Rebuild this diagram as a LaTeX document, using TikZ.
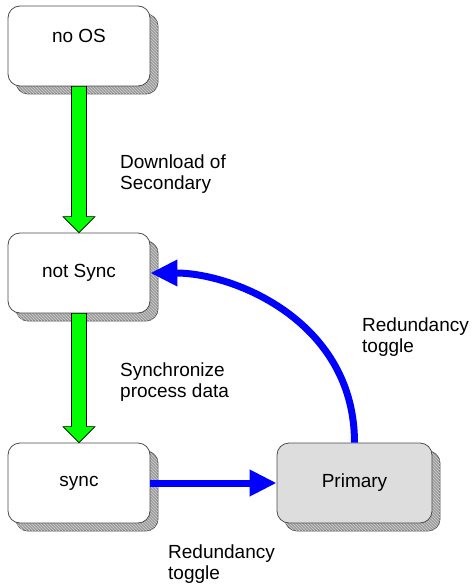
\documentclass[tikz,border=0pt]{standalone}
\usepackage{fontspec}
\setmainfont{Liberation Sans}
\usetikzlibrary{arrows.meta,shadows,patterns,calc}
\definecolor{StateGreen}{HTML}{00FF00}
\definecolor{ToggleBlue}{HTML}{0000FF}
\definecolor{ShadowGray}{HTML}{9C9C9C}
\definecolor{HatchGray}{HTML}{D0D0D0}
\definecolor{PrimaryGray}{HTML}{DDDDDD}
\begin{document}
\begin{tikzpicture}[x=1pt,y=-1pt,font=\fontsize{19}{21.5}\selectfont,
  statebox/.style={draw=black!70,line width=0.8pt,rounded corners=12pt,fill=white,
    minimum width=142pt,minimum height=80pt,inner sep=0pt,
    general shadow={shadow xshift=8pt,shadow yshift=-8pt,fill=ShadowGray,draw=black!65,
      postaction={pattern=north west lines,pattern color=HatchGray}}},
  syncflow/.style={draw=black,line width=0.6pt,fill=StateGreen,
    to path={let \p1=(\tikztostart), \p2=(\tikztotarget) in
      (\x1-7.5pt,\y1) -- (\x1+7.5pt,\y1) -- (\x1+7.5pt,\y2+16pt) -- (\x1+16pt,\y2+16pt)
      -- (\x1,\y2) -- (\x1-16pt,\y2+16pt) -- (\x1-7.5pt,\y2+16pt) -- cycle}},
  toggle/.style={draw=ToggleBlue,line width=7pt,-{Triangle[length=27pt,width=25pt]}},
  note/.style={anchor=west,align=left,inner sep=0pt}]
\useasboundingbox (0,0) rectangle (471,585);
% states of the redundant pair
\node[statebox,text height=14pt,text depth=20pt] (noos) at (79,46) {no OS};
\node[statebox] (notsync) at (79,273)   {not Sync};
\node[statebox] (sync)    at (79,483)   {sync};
\node[statebox,fill=PrimaryGray,minimum width=155pt] (primary) at (354.5,483) {Primary};
% transitions
\draw[syncflow] (noos.south) to (notsync.north);
\draw[syncflow] (notsync.south) to (sync.north);
\draw[toggle] (sync.east) -- (primary.west);
\draw[toggle] (primary.north) .. controls +(0,-120) and +(85,0) .. (notsync.east);
% transition labels
\node[note] (lbldownload) at (120,174) {Download of\\Secondary};
\node[note] (lblsyncdata) at (120,382) {Synchronize\\process data};
\node[note] (lbltoggleup) at (362,337) {Redundancy\\toggle};
\node[note] (lbltogglelow) at (168,564) {Redundancy\\toggle};
\end{tikzpicture}
\end{document}
